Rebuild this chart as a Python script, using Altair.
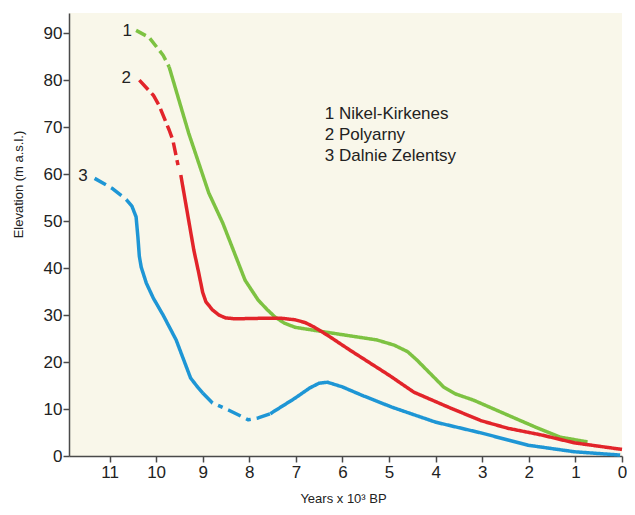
import altair as alt
import pandas as pd

# ---- data ----
series_ids = ["1", "2", "3"]
series_colors = ["#7dc242", "#e2242a", "#1e96d5"]

# 1 Nikel-Kirkenes (green)
g_dash_age = [10.43, 10.15, 9.85, 9.72]
g_dash_elev = [90.6, 89.1, 85.3, 82.8]
g_solid_age = [9.72, 9.30, 8.87, 8.57, 8.09, 7.81, 7.62, 7.45, 7.25, 7.02, 6.70, 6.38, 5.26, 4.89, 4.60, 4.40, 4.19, 3.83, 3.57, 3.19, 2.45, 1.87, 1.32, 0.74]
g_solid_elev = [82.8, 68.7, 56.0, 49.6, 37.4, 33.2, 31.2, 29.6, 28.3, 27.4, 26.9, 26.4, 24.7, 23.6, 22.2, 20.4, 18.3, 14.7, 13.2, 11.9, 8.7, 6.2, 4.0, 3.0]

# 2 Polyarny (red)
r_dash_age = [10.36, 10.06, 9.94, 9.72, 9.64, 9.53]
r_dash_elev = [80.0, 76.8, 74.7, 69.4, 67.2, 61.9]
r_solid_age = [9.47, 9.19, 9.09, 9.00, 8.93, 8.79, 8.65, 8.51, 8.30, 7.80, 7.30, 7.02, 6.80, 6.60, 6.32, 5.85, 5.00, 4.47, 4.10, 3.68, 3.02, 2.45, 1.74, 1.02, 0.00]
r_solid_elev = [59.8, 43.8, 39.2, 34.8, 32.8, 31.1, 30.0, 29.4, 29.2, 29.3, 29.3, 29.0, 28.4, 27.4, 25.7, 22.6, 17.2, 13.6, 12.0, 10.2, 7.5, 5.9, 4.5, 2.8, 1.4]

# 3 Dalnie Zelentsy (blue)
b_dash1_age = [11.32, 10.95, 10.64]
b_dash1_elev = [59.1, 57.0, 54.6]
b_solid1_age = [10.64, 10.52, 10.43, 10.39, 10.36, 10.32, 10.21, 10.06, 9.85, 9.57, 9.26, 9.12, 9.00]
b_solid1_elev = [54.6, 53.2, 50.9, 46.5, 42.5, 40.2, 36.8, 33.6, 30.0, 24.7, 16.6, 14.8, 13.4]
b_dash2_age = [9.00, 8.79, 8.45, 8.02, 7.81, 7.55]
b_dash2_elev = [13.4, 11.3, 9.8, 7.7, 8.1, 9.0]
b_solid2_age = [7.55, 7.02, 6.70, 6.50, 6.32, 6.00, 5.60, 4.94, 4.00, 3.02, 2.02, 1.02, 0.04]
b_solid2_elev = [9.0, 12.3, 14.5, 15.5, 15.7, 14.7, 13.0, 10.4, 7.2, 4.9, 2.3, 0.9, 0.2]

# curve number labels
num_text = ["1", "2", "3"]
num_age = [10.62, 10.64, 11.57]
num_elev = [90.4, 80.4, 59.6]

# legend text block
legend_lines = ["1 Nikel-Kirkenes", "2 Polyarny", "3 Dalnie Zelentsy"]
legend_age = [6.38, 6.38, 6.38]
legend_elev = [72.8, 68.3, 63.8]

x_ticks = list(range(0, 12))
y_ticks = list(range(0, 100, 10))

segments = [
    ("1", "g1", "dashG", g_dash_age, g_dash_elev),
    ("1", "g2", "solid", g_solid_age, g_solid_elev),
    ("2", "r1", "dashR", r_dash_age, r_dash_elev),
    ("2", "r2", "solid", r_solid_age, r_solid_elev),
    ("3", "b1", "dashB", b_dash1_age, b_dash1_elev),
    ("3", "b2", "solid", b_solid1_age, b_solid1_elev),
    ("3", "b3", "dashB2", b_dash2_age, b_dash2_elev),
    ("3", "b4", "solid", b_solid2_age, b_solid2_elev),
]
rows = []
for sid, seg, style, xs, ys in segments:
    for i, (a, e) in enumerate(zip(xs, ys)):
        rows.append({"series": sid, "seg": seg, "style": style, "ord": i, "age": a, "elev": e})
df = pd.DataFrame(rows)

num_df = pd.DataFrame({"t": num_text, "age": num_age, "elev": num_elev})
leg_df = pd.DataFrame({"t": legend_lines, "age": legend_age, "elev": legend_elev})

FONT = "Liberation Sans"
x_scale = alt.Scale(domain=[0, 11.87], reverse=True, nice=False, zero=False)
y_scale = alt.Scale(domain=[0, 94.3], nice=False, zero=False)

x_enc = alt.X(
    "age:Q", scale=x_scale,
    axis=alt.Axis(values=x_ticks, format="d", title="Years x 10³ BP",
                  titleX=274, titleY=42, titleAnchor="middle", titleBaseline="middle",
                  labelFlush=False, labelPadding=2, tickSize=6),
)
y_enc = alt.Y(
    "elev:Q", scale=y_scale,
    axis=alt.Axis(values=y_ticks, format="d", title="Elevation (m a.s.l.)",
                  titleX=-51, titleY=171, titleAnchor="middle", titleBaseline="middle",
                  labelFlush=False, labelPadding=1, tickSize=6),
)

lines = alt.Chart(df).mark_line(strokeWidth=3.5, strokeCap="butt", strokeJoin="round").encode(
    x=x_enc,
    y=y_enc,
    color=alt.Color("series:N", scale=alt.Scale(domain=series_ids, range=series_colors), legend=None),
    strokeDash=alt.StrokeDash(
        "style:N",
        scale=alt.Scale(domain=["solid", "dashG", "dashR", "dashB", "dashB2"],
                        range=[[1, 0], [11, 5], [13, 5], [13, 6], [14, 6, 5, 6]]),
        legend=None,
    ),
    detail="seg:N",
    order="ord:Q",
)

nums = alt.Chart(num_df).mark_text(font=FONT, fontSize=17, color="#222222", align="center", baseline="middle").encode(
    x=alt.X("age:Q", scale=x_scale), y=alt.Y("elev:Q", scale=y_scale), text="t:N"
)
legend = alt.Chart(leg_df).mark_text(font=FONT, fontSize=17, color="#222222", align="left", baseline="middle").encode(
    x=alt.X("age:Q", scale=x_scale), y=alt.Y("elev:Q", scale=y_scale), text="t:N"
)

chart = (
    alt.layer(lines, nums, legend)
    .properties(width=553, height=443,
                autosize=alt.AutoSizeParams(type="none"),
                padding={"left": 61, "top": 5, "right": 5, "bottom": 50},
                background="white")
    .configure_view(fill="#f9f7ea", stroke=None)
    .configure_axis(
        grid=False, domainColor="#4a4a4a", domainWidth=1.5, tickColor="#4a4a4a", tickWidth=1.5,
        labelFont=FONT, labelFontSize=17, labelColor="#222222",
        titleFont=FONT, titleFontSize=13, titleFontWeight="normal", titleColor="#222222",
    )
)

chart.save("out.html", embed_options={"renderer": "svg", "actions": False})
